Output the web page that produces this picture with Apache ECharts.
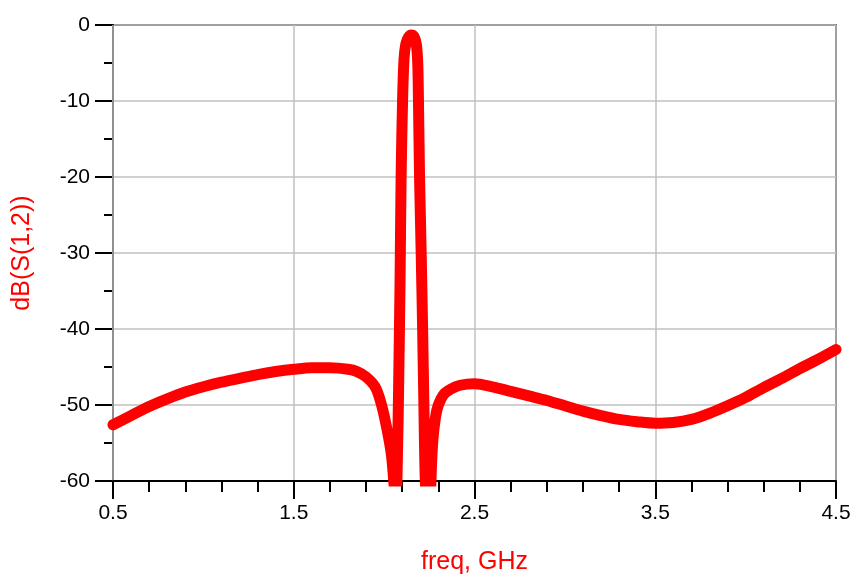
<!DOCTYPE html>
<html lang="en">
  <head>
    <meta charset="UTF-8" />
    <script src="https://cdn.jsdelivr.net/npm/echarts@6.0.0/dist/echarts.min.js"></script>
    <title>dB(S(1,2))</title>
    <style>
      body { margin: 0; background: #fff; }
      #container { width: 866px; height: 585px; }
    </style>
  </head>
  <body>
    <div id="container"></div>
    <script>
      // frequency points, GHz
      const freq = [
        0.5, 0.6, 0.7, 0.8, 0.9, 1.0, 1.1, 1.2, 1.3, 1.4, 1.5, 1.6, 1.7, 1.8,
        1.85, 1.9, 1.95, 1.98, 2.01, 2.04, 2.055, 2.065, 2.075, 2.08, 2.088,
        2.094, 2.102, 2.11, 2.12, 2.135, 2.15, 2.165, 2.178, 2.186, 2.19, 2.196,
        2.205, 2.213, 2.22, 2.228, 2.24, 2.255, 2.262, 2.27, 2.285, 2.3, 2.33,
        2.37, 2.42, 2.5, 2.6, 2.7, 2.8, 2.9, 3.0, 3.1, 3.2, 3.3, 3.4, 3.5, 3.6,
        3.7, 3.8, 3.9, 4.0, 4.1, 4.2, 4.3, 4.4, 4.5
      ];
      // dB(S(1,2))
      const s12 = [
        -52.6, -51.4, -50.2, -49.2, -48.3, -47.6, -47.0, -46.5, -46.0, -45.6,
        -45.3, -45.1, -45.1, -45.3, -45.6, -46.3, -47.6, -49.5, -52.5, -56.5,
        -60.5, -63, -55, -48, -34, -20, -10, -4.5, -2.5, -1.6, -1.3, -1.5, -2.5,
        -5, -10, -20, -30, -40, -50, -60, -64, -62, -58, -54.5, -51.5, -50,
        -48.6, -47.9, -47.4, -47.2, -47.6, -48.2, -48.8, -49.4, -50.1, -50.8,
        -51.4, -51.9, -52.2, -52.4, -52.3, -51.9, -51.1, -50.1, -49.0, -47.7,
        -46.5, -45.2, -44.0, -42.7
      ];

      const font = "'Liberation Sans', Arial, sans-serif";
      const black = { color: "#000", width: 2 };

      var chart = echarts.init(document.getElementById("container"), null, {
        renderer: "canvas",
      });

      var option = {
        animation: false,
        grid: {
          left: 113,
          right: 30,
          top: 25,
          bottom: 104,
          show: true,
          borderColor: "#000",
          borderWidth: 1.5,
        },
        xAxis: {
          type: "value",
          min: 0.5,
          max: 4.5,
          interval: 1,
          name: "freq, GHz",
          nameLocation: "middle",
          nameGap: 69,
          nameTextStyle: { color: "#ff0000", fontSize: 25, fontFamily: font },
          axisLine: { onZero: false, lineStyle: black },
          axisTick: { length: 18, lineStyle: black },
          minorTick: {
            show: true,
            splitNumber: 5,
            length: 11,
            lineStyle: black,
          },
          axisLabel: {
            margin: 22,
            color: "#000",
            fontSize: 21,
            fontFamily: font,
            formatter: (v) => v.toFixed(1),
          },
          splitLine: { lineStyle: { color: "#c0c0c0", width: 1.5 } },
          z: 3,
        },
        yAxis: {
          type: "value",
          min: -60,
          max: 0,
          interval: 10,
          name: "dB(S(1,2))",
          nameLocation: "middle",
          nameGap: 78,
          nameTextStyle: { color: "#ff0000", fontSize: 25, fontFamily: font },
          axisLine: { onZero: false, lineStyle: black },
          axisTick: { length: 18, lineStyle: black },
          minorTick: {
            show: true,
            splitNumber: 2,
            length: 9,
            lineStyle: black,
          },
          axisLabel: {
            margin: 23,
            color: "#000",
            fontSize: 21,
            fontFamily: font,
          },
          splitLine: { lineStyle: { color: "#c0c0c0", width: 1.5 } },
        },
        series: [
          {
            type: "line",
            showSymbol: false,
            clip: true,
            smooth: 0.3,
            data: freq.map((f, i) => [f, s12[i]]),
            lineStyle: { color: "#ff0000", width: 11, join: "round", cap: "round" },
          },
        ],
      };

      chart.setOption(option);
    </script>
  </body>
</html>
